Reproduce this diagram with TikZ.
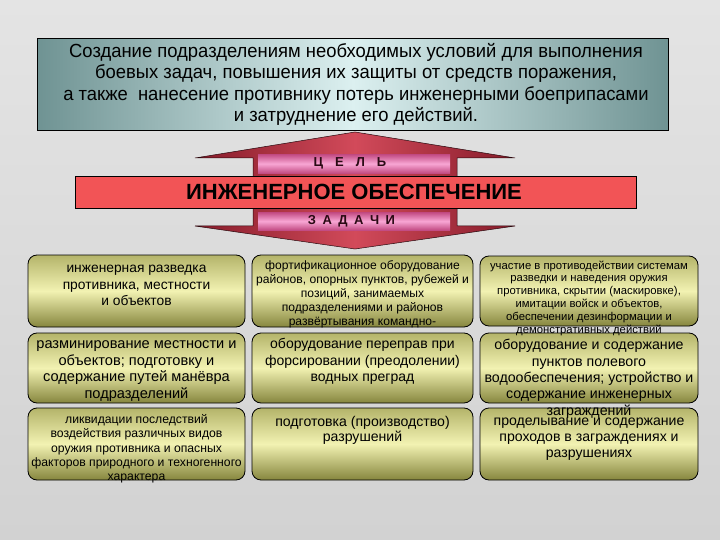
\documentclass[tikz,border=0pt]{standalone}
\usepackage{fontspec}
\setmainfont{Liberation Sans}
\newfontfamily\titlefont[FakeStretch=0.97]{Liberation Sans}
\newcommand{\fs}[2]{\fontsize{#1}{#2}\selectfont}
\definecolor{bgA}{HTML}{E4E4E4}
\definecolor{bgB}{HTML}{D2D2D2}
\definecolor{tealE}{HTML}{6F9393}
\definecolor{tealM}{HTML}{DCF0F0}
\definecolor{redD}{HTML}{861C2A}
\definecolor{redM}{HTML}{D24A5A}
\definecolor{band}{HTML}{F25456}
\definecolor{pinkE}{HTML}{C24A82}
\definecolor{pinkM}{HTML}{F8A6D4}
\definecolor{oliveT}{HTML}{B4B46A}
\definecolor{oliveM}{HTML}{F2F2B2}
\definecolor{oliveB}{HTML}{86863E}
\definecolor{darkT}{HTML}{2A0A14}
\tikzset{
  taskbox/.style={draw=black, line width=0.8pt, rounded corners=9pt,
    top color=oliveT, bottom color=oliveB, middle color=oliveM},
  boxtext/.style={anchor=north, inner sep=0pt, align=center, text=black},
  pinkbox/.style={draw=none, top color=pinkE, bottom color=pinkE, middle color=pinkM},
}
\newcommand{\lsp}{\hspace{12pt}}
\newcommand{\tsp}{\hspace{6.5pt}}
\begin{document}
\begin{tikzpicture}[x=1pt,y=-1pt]
\useasboundingbox (0,0) rectangle (720,540);
\shade[top color=bgA, bottom color=bgB] (0,0) rectangle (720,540);

% title box
\node[draw=black, line width=0.9pt, left color=tealE, right color=tealE, middle color=tealM,
  minimum width=631pt, minimum height=92pt, inner sep=0pt, anchor=north west] (goal) at (37,38) {};
\node[boxtext, font=\titlefont\fs{19}{21.5}] (goaltext) at (356,41.9)
  {\strut Создание подразделениям необходимых условий для выполнения\\
   боевых задач, повышения их защиты от средств поражения,\\
   а также\ \ нанесение противнику потерь инженерными боеприпасами\\
   и затруднение его действий.};

% double arrow
\path[draw=black!70!redD, line width=0.5pt, left color=redD, right color=redD, middle color=redM]
  (355,132) -- (515,158) -- (457,158) -- (457,226) -- (515,226) -- (355,249)
  -- (195,226) -- (253,226) -- (253,158) -- (195,158) -- cycle;
\node[pinkbox, minimum width=192pt, minimum height=19pt, inner sep=0pt, anchor=north west] (goalbox) at (258,154) {};
\node[font=\bfseries\fs{13}{14}, text=darkT] (goallabel) at (350,163.5) {Ц\lsp Е\lsp Л\lsp Ь};
\node[draw=black, line width=0.8pt, fill=band, minimum width=561pt, minimum height=32pt, inner sep=0pt, anchor=north west] (main) at (75,176) {};
\node[font=\bfseries\fs{22}{24}, text=black] (maintext) at (354,192) {ИНЖЕНЕРНОЕ ОБЕСПЕЧЕНИЕ};
\node[pinkbox, minimum width=192pt, minimum height=18pt, inner sep=0pt, anchor=north west] (taskhead) at (258,212) {};
\node[font=\bfseries\fs{13}{14}, text=darkT] (tasklabel) at (351.5,221.5) {З\tsp А\tsp Д\tsp А\tsp Ч\tsp И};

% task boxes
\draw[taskbox] (28,255) rectangle (245,327);
\draw[taskbox] (252,255) rectangle (473,327);
\draw[taskbox] (480,256) rectangle (698,326);
\draw[taskbox] (28,333) rectangle (245,403);
\draw[taskbox] (252,333) rectangle (473,403);
\draw[taskbox] (480,333) rectangle (698,403);
\draw[taskbox] (28,408) rectangle (245,480);
\draw[taskbox] (252,408) rectangle (473,480);
\draw[taskbox] (480,408) rectangle (698,480);

\node[boxtext, font=\fs{13.8}{16.5}] (t11) at (136.5,261.0)
  {\strut инженерная разведка\\противника, местности\\и объектов};
\node[boxtext, font=\fs{12.1}{14}] (t12) at (362.5,259.3)
  {\strut фортификационное оборудование\\районов, опорных пунктов, рубежей и\\позиций, занимаемых\\подразделениями и районов\\развёртывания командно-};
\node[boxtext, font=\fs{11.3}{12.8}] (t13) at (589,260.0)
  {\strut участие в противодействии системам\\разведки и наведения оружия\\противника, скрытии (маскировке),\\имитации войск и объектов,\\обеспечении дезинформации и\\демонстративных действий};
\node[boxtext, font=\fs{14.6}{16.5}] (t21) at (136.5,337.2)
  {\strut разминирование местности и\\объектов; подготовку и\\содержание путей манёвра\\подразделений};
\node[boxtext, font=\fs{14}{16.5}] (t22) at (362.5,337.1)
  {\strut оборудование переправ при\\форсировании (преодолении)\\водных преград};
\node[boxtext, font=\fs{14.2}{16.3}] (t23) at (589,338.3)
  {\strut оборудование и содержание\\пунктов полевого\\водообеспечения; устройство и\\содержание инженерных\\заграждений};
\node[boxtext, font=\fs{12.2}{14.3}] (t31) at (136.5,413.2)
  {\strut ликвидации последствий\\воздействия различных видов\\оружия противника и опасных\\факторов природного и техногенного\\характера};
\node[boxtext, font=\fs{14.1}{15}] (t32) at (362.5,416.2)
  {\strut подготовка (производство)\\разрушений};
\node[boxtext, font=\fs{14.1}{16}] (t33) at (589,414.5)
  {\strut проделывание и содержание\\проходов в заграждениях и\\разрушениях};
\end{tikzpicture}
\end{document}
